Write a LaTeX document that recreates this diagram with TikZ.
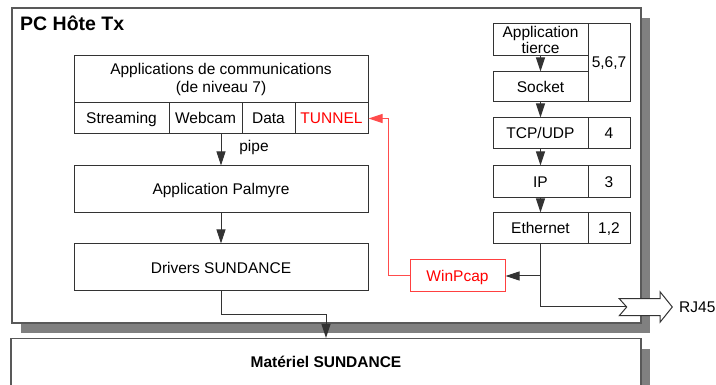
\documentclass[tikz,border=0pt]{standalone}
\usepackage{fontspec}
\setmainfont{Liberation Sans}
\usetikzlibrary{arrows.meta}
\begin{document}
\begin{tikzpicture}[x=1pt,y=-1pt,
  bloc/.style={draw=black!80,line width=1pt,fill=white,inner sep=0pt,align=center,font=\fontsize{15.5}{17}\selectfont},
  cellule/.style={bloc,text height=11pt,text depth=0pt},
  cadre/.style={draw=black!65,line width=1.3pt,fill=white},
  ombre/.style={fill=black!50},
  fleche/.style={draw=black!80,line width=1pt,-{Triangle[length=14pt,width=9pt]}},
  rouge/.style={draw=red!70,line width=1pt,-{Triangle[length=14pt,width=9pt]}}]
\clip (0,0) rectangle (716,385);
\fill[white] (0,0) rectangle (716,385);
\fill[ombre] (21,18) rectangle (650,333);
\draw[cadre] (12,8) rectangle (641,323);
\node[font=\fontsize{19.5}{20}\selectfont\bfseries,inner sep=0pt,anchor=base west] (titre) at (20,31) {PC Hôte Tx};
\node[bloc,minimum width=294,minimum height=47,font=\fontsize{15.5}{18}\selectfont] (applis) at (221,79.5) {Applications de communications\\(de niveau 7)};
\node[cellule,minimum width=95,minimum height=31] (streaming) at (121.5,118.5) {Streaming};
\node[cellule,minimum width=73,minimum height=31] (webcam) at (205.5,118.5) {Webcam};
\node[cellule,minimum width=53,minimum height=31] (data) at (268.5,118.5) {Data};
\node[cellule,minimum width=73,minimum height=31,text=red] (tunnel) at (331.5,118.5) {TUNNEL};
\node[cellule,minimum width=294,minimum height=47] (palmyre) at (221,189.5) {Application Palmyre};
\node[cellule,minimum width=294,minimum height=47] (drivers) at (221,267.5) {Drivers SUNDANCE};
\node[font=\fontsize{15.5}{17}\selectfont] (pipe) at (254,147) {pipe};
\node[bloc,minimum width=42,minimum height=78] (c567) at (609,63) {5,6,7};
\node[bloc,minimum width=95,minimum height=32,font=\fontsize{15.5}{16.5}\selectfont] (tierce) at (540.5,40) {Application\\tierce};
\node[cellule,minimum width=95,minimum height=30] (socket) at (540.5,87) {Socket};
\node[cellule,minimum width=95,minimum height=31] (tcp) at (540.5,133.5) {TCP/UDP};
\node[cellule,minimum width=42,minimum height=31] (c4) at (609,133.5) {4};
\node[cellule,minimum width=95,minimum height=32] (ip) at (540.5,182) {IP};
\node[cellule,minimum width=42,minimum height=32] (c3) at (609,182) {3};
\node[cellule,minimum width=95,minimum height=31] (eth) at (540.5,228.5) {Ethernet};
\node[cellule,minimum width=42,minimum height=31] (c12) at (609,228.5) {1,2};
\node[cellule,minimum width=95,minimum height=32,draw=red!75,text=red] (winpcap) at (457.5,276) {WinPcap};
\draw[black!80,line width=1pt,fill=white] (619.3,298.7) -- (660,298.7) -- (660,291.7) -- (672.3,307) -- (660,322.3) -- (660,315.7) -- (619.3,315.7) -- (626.7,307) -- cycle;
\coordinate (encoche) at (626.7,307);
\node[font=\fontsize{15.5}{17}\selectfont,inner sep=0pt,anchor=west] (rj45) at (679,307) {RJ45};
\fill[ombre] (20,349) rectangle (650,400);
\node[cadre,inner sep=0pt,minimum width=630,minimum height=47,font=\fontsize{15.5}{17}\selectfont\bfseries] (materiel) at (326,362) {Matériel SUNDANCE};
\draw[fleche] (webcam.south -| palmyre.north) -- (palmyre.north);
\draw[fleche] (palmyre.south) -- (drivers.north);
\coordinate (coude) at (221,315);
\draw[fleche] (drivers.south) -- (coude) -| (materiel.north);
\foreach \a/\b in {tierce/socket,socket/tcp,tcp/ip,ip/eth}
  \draw[fleche] (\a.south) -- (\b.north);
\draw[black!80,line width=1pt] (eth.south) |- (encoche);
\draw[fleche] (eth.south |- winpcap.east) -- (winpcap.east);
\draw[rouge] (winpcap.west) -- ++(-21,0) |- (tunnel.east);
\end{tikzpicture}
\end{document}
